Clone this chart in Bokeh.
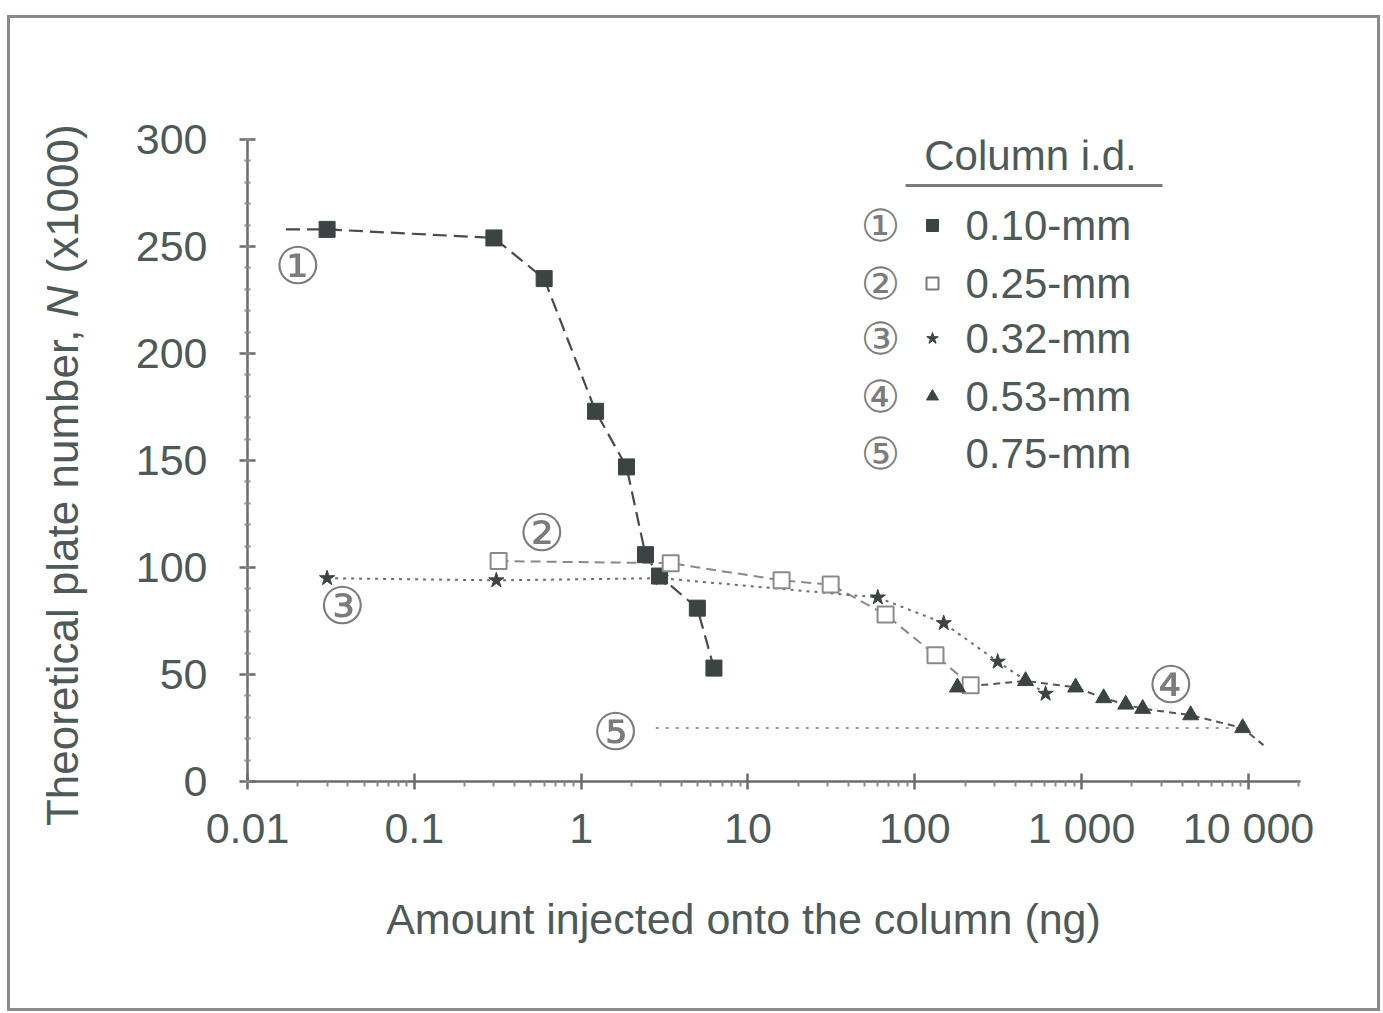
import math

from bokeh.core.properties import value
from bokeh.embed import file_html
from bokeh.models import (CustomJSTickFormatter, FixedTicker, InlineStyleSheet,
                          Label, Range1d)
from bokeh.plotting import figure
from bokeh.resources import INLINE

# ---- plate number N (x1000) against amount injected (ng), per column i.d. ----
id_010_x = [0.03, 0.30, 0.60, 1.22, 1.87, 2.43, 2.95, 4.97, 6.25]
id_010_y = [258, 254, 235, 173, 147, 106, 96, 81, 53]

id_025_x = [0.32, 3.44, 15.9, 31.3, 66.8, 133, 216]
id_025_y = [103, 102, 94, 92, 78, 59, 45]

id_032_x = [0.03, 0.31, 3.0, 60, 149, 314, 608]
id_032_y = [95, 94, 95, 86, 74, 56, 41]

id_053_x = [180, 461, 920, 1355, 1837, 2322, 4503, 9226]
id_053_y = [44, 47, 44, 39, 36, 34, 31, 25]

id_075_x = [2.8, 9000]
id_075_y = [25, 25]

# drawn trend lines run a little beyond the measured points
id_010_lead_x, id_010_lead_y = [0.017], [258]
id_053_tail_x, id_053_tail_y = [12300], [17]

series_names = ["0.10-mm", "0.25-mm", "0.32-mm", "0.53-mm", "0.75-mm"]
series_tags = ["\u2460", "\u2461", "\u2462", "\u2463", "\u2464"]

# circled curve numbers placed beside each curve
tag_x = [0.02, 0.58, 0.037, 3417, 1.61]
tag_y = [241, 116, 82, 45, 23]

x_ticks = [0.01, 0.1, 1, 10, 100, 1000, 10000]
x_tick_labels = ["0.01", "0.1", "1", "10", "100", "1 000", "10 000"]
y_ticks = [0, 50, 100, 150, 200, 250, 300]

x_title = "Amount injected onto the column (ng)"
y_title_parts = ["Theoretical plate number,", "N", "(x1000)"]
legend_title = "Column i.d."

# ---- page geometry ----
W, H = 1383, 1013
FRAME_L, FRAME_R, FRAME_T, FRAME_B = 247, 1300, 139, 781
X_MIN, X_MAX = 0.01, 20500.0
Y_MIN, Y_MAX = 0, 300
DECADE = (FRAME_R - FRAME_L) / math.log10(X_MAX / X_MIN)

TEXT = "#4d5a57"
AXIS = "#6b6b6b"
MARK = "#3c4443"
TAG = "#7c7c7c"
FONT = "Liberation Sans"


def data_x(px):
    return X_MIN * 10 ** ((px - FRAME_L) / DECADE)


def data_y(py):
    return Y_MAX * (FRAME_B - py) / (FRAME_B - FRAME_T)


def sx(px):
    return px - FRAME_L


def sy(py):
    return FRAME_B - py


p = figure(
    width=W, height=H,
    x_axis_type="log",
    x_range=Range1d(X_MIN, X_MAX), y_range=Range1d(Y_MIN, Y_MAX),
    output_backend="svg", toolbar_location=None,
    min_border_left=FRAME_L, min_border_right=W - FRAME_R,
    min_border_top=FRAME_T, min_border_bottom=H - FRAME_B,
    background_fill_color="white", border_fill_color="white",
)
p.outline_line_color = None
p.grid.visible = False

# thin grey frame round the whole figure
p.stylesheets = [InlineStyleSheet(css="""
:host::after {
  content: "";
  position: absolute;
  left: 7px; top: 15px; right: 3px; bottom: 2px;
  border: 3px solid #8a8a8a;
  pointer-events: none;
}
""")]

# ---- axes ----
x_minor = [m * 10 ** k for k in range(-2, 5) for m in range(2, 10) if m * 10 ** k <= X_MAX]
p.xaxis.ticker = FixedTicker(ticks=x_ticks, minor_ticks=x_minor)
p.xaxis.formatter = CustomJSTickFormatter(
    args=dict(labels=x_tick_labels, shift=-round(math.log10(x_ticks[0]))),
    code="return labels[Math.round(Math.log10(tick)) + shift]",
)
p.yaxis.ticker = FixedTicker(ticks=y_ticks, minor_ticks=list(range(0, 301, 10)))

for ax in (p.xaxis[0], p.yaxis[0]):
    ax.axis_line_color = AXIS
    ax.axis_line_width = 2.5
    ax.major_tick_line_color = AXIS
    ax.major_tick_line_width = 2.5
    ax.minor_tick_line_color = "#8c8c8c"
    ax.minor_tick_line_width = 2
    ax.major_tick_in = 8
    ax.major_tick_out = 8
    ax.major_label_text_font = FONT
    ax.major_label_text_font_size = "43px"
    ax.major_label_text_color = TEXT

p.xaxis.minor_tick_in = 0
p.xaxis.minor_tick_out = 5
p.xaxis.major_label_standoff = 14
p.yaxis.minor_tick_in = 3
p.yaxis.minor_tick_out = 3
p.yaxis.major_label_standoff = 32

# ---- curves ----
p.line(id_010_lead_x + id_010_x, id_010_lead_y + id_010_y,
       line_color="#4a4a4a", line_width=2.2, line_dash="14 7")
p.line(id_025_x, id_025_y, line_color="#8a8a8a", line_width=2, line_dash="10 6")
p.line(id_032_x, id_032_y, line_color="#6e6e6e", line_width=2, line_dash="3 5")
p.line(id_053_x + id_053_tail_x, id_053_y + id_053_tail_y,
       line_color="#555555", line_width=2, line_dash="7 5")
p.line(id_075_x, id_075_y, line_color="#9a9a9a", line_width=2, line_dash="3 7")

p.scatter(id_010_x, id_010_y, marker="square", size=16, fill_color=MARK, line_color=MARK)
p.scatter(id_025_x, id_025_y, marker="square", size=16, fill_color="white",
          line_color="#8a8a8a", line_width=2)
p.scatter(id_032_x, id_032_y, marker="star", size=16, fill_color=MARK, line_color=MARK)
p.scatter(id_053_x, id_053_y, marker="triangle", size=16, fill_color=MARK, line_color=MARK)

p.text(tag_x, tag_y, text=series_tags, text_font=value("DejaVu Sans"),
       text_font_size="52px", text_color=TAG,
       text_align="center", text_baseline="middle")

# ---- key ----
row_py = [225, 283, 338, 396, 453]
p.add_layout(Label(x=sx(1030), y=sy(155), x_units="screen", y_units="screen",
                   text=legend_title, text_font=FONT, text_font_size="42px",
                   text_color=TEXT, text_align="center", text_baseline="middle"))
p.line([data_x(905), data_x(1162)], [data_y(185)] * 2, line_color="#7a7a7a", line_width=3)

for tag, name, py in zip(series_tags, series_names, row_py):
    p.add_layout(Label(x=sx(880), y=sy(py), x_units="screen", y_units="screen",
                       text=tag, text_font="DejaVu Sans", text_font_size="44px",
                       text_color=TAG, text_align="center", text_baseline="middle"))
    p.add_layout(Label(x=sx(965), y=sy(py), x_units="screen", y_units="screen",
                       text=name, text_font=FONT, text_font_size="42px",
                       text_color=TEXT, text_align="left", text_baseline="middle"))

key_x = data_x(932)
p.scatter([key_x], [data_y(row_py[0])], marker="square", size=12, fill_color=MARK, line_color=MARK)
p.scatter([key_x], [data_y(row_py[1])], marker="square", size=12, fill_color="white",
          line_color="#7a7a7a", line_width=2)
p.scatter([key_x], [data_y(row_py[2])], marker="star", size=12, fill_color=MARK, line_color=MARK)
p.scatter([key_x], [data_y(row_py[3])], marker="triangle", size=12, fill_color=MARK, line_color=MARK)

# ---- axis titles, hosted in side panels (canvas units) so they are not clipped ----
p.add_layout(Label(x=743, y=918, x_units="canvas", y_units="canvas",
                   text=x_title, text_font=FONT, text_font_size="43px",
                   text_color=TEXT, text_align="center", text_baseline="middle"),
             "below")

n_px, n_py = 62, 301
half_n, gap = 16, 12
y_title_spec = [
    (n_py + half_n + gap, "right", "normal", "left"),
    (n_py, "center", "italic", "right"),
    (n_py - half_n - gap, "left", "normal", "left"),
]
for part, (py, align, style, side) in zip(y_title_parts, y_title_spec):
    p.add_layout(Label(x=n_px, y=py, x_units="canvas", y_units="canvas",
                       angle=math.pi / 2, text=part, text_font=FONT,
                       text_font_size="44px", text_font_style=style, text_color=TEXT,
                       text_align=align, text_baseline="middle"),
                 side)

open("out.html", "w").write(file_html(p, INLINE, title="Plate number vs amount injected"))
